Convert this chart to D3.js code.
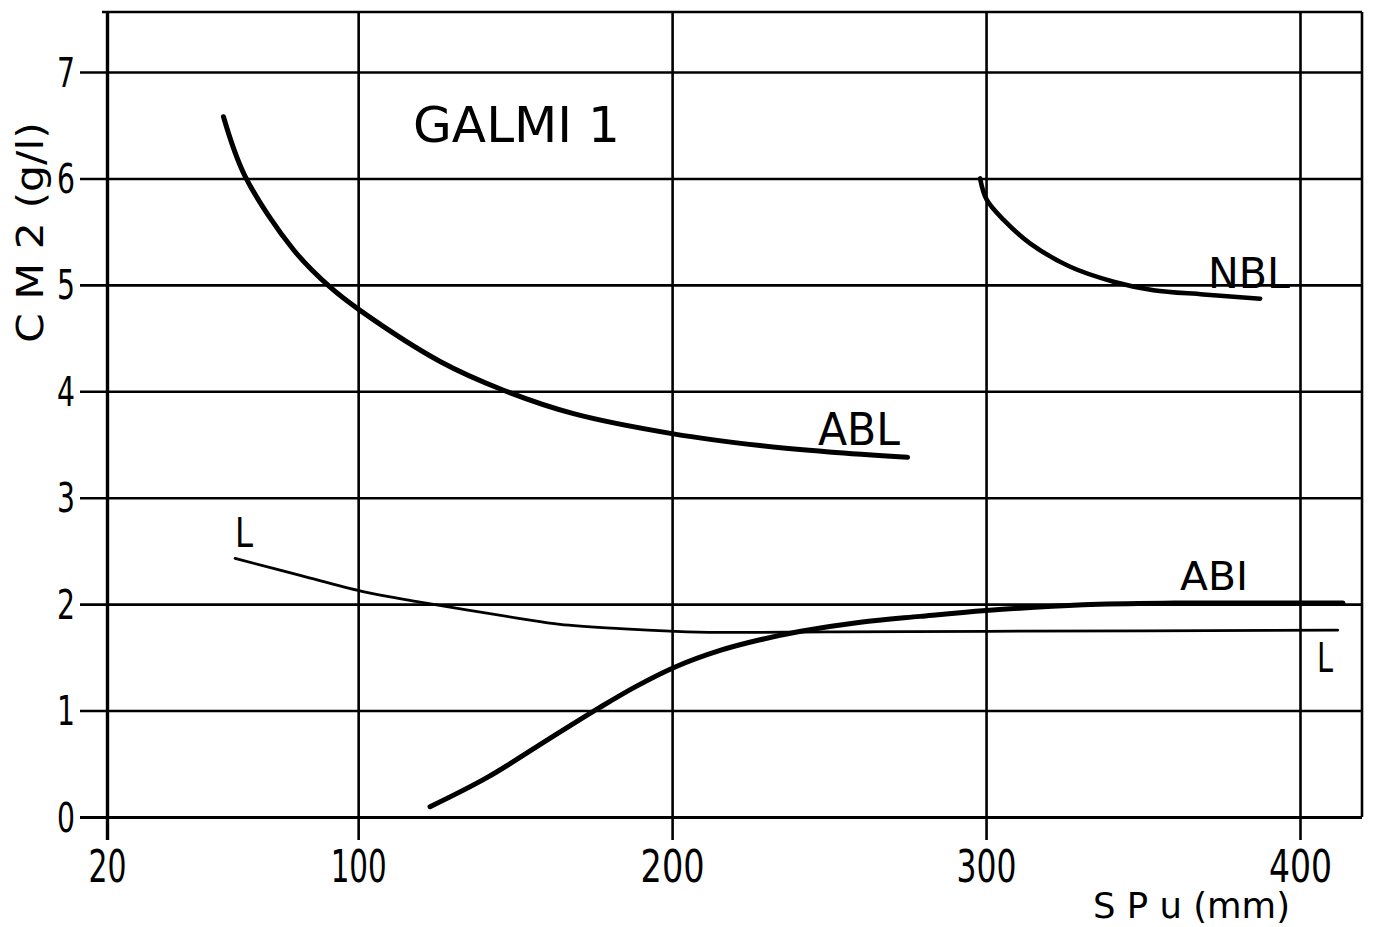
<!DOCTYPE html>
<html>
<head>
<meta charset="utf-8">
<script src="https://cdn.jsdelivr.net/npm/d3@7"></script>
<style>
  html, body { margin: 0; padding: 0; background: #fff; }
  svg { display: block; }
  text { font-family: "DejaVu Sans", sans-serif; fill: #000; }
</style>
</head>
<body>
<svg id="chart" width="1379" height="927"></svg>
<script>
// ---- data ----
const xTicks = [20, 100, 200, 300, 400];
const yTicks = [0, 1, 2, 3, 4, 5, 6, 7];
const xTickLabels = ["20", "100", "200", "300", "400"];

const ablX = [57.1, 64, 79.4, 91, 100.6, 126.1, 146.3, 168.6, 200.4, 228, 250, 275];
const ablY = [6.58, 6.02, 5.33, 4.98, 4.76, 4.28, 4.01, 3.79, 3.60, 3.49, 3.43, 3.38];

const nblX = [298.1, 300.2, 305.6, 314.0, 326.8, 340.6, 353.3, 369.3, 387.3];
const nblY = [6.0, 5.80, 5.61, 5.39, 5.17, 5.03, 4.95, 4.91, 4.87];

const abiX = [122.9, 141, 162.2, 177, 188.7, 201, 215.3, 228, 241, 260, 279, 300, 331, 360, 413.7];
const abiY = [0.097, 0.37, 0.76, 1.03, 1.23, 1.41, 1.565, 1.665, 1.745, 1.83, 1.885, 1.94, 1.995, 2.01, 2.01];

const lX = [60.8, 81.5, 101.2, 119.7, 151.6, 164.3, 183.4, 201, 215, 250, 300, 412];
const lY = [2.43, 2.27, 2.12, 2.02, 1.865, 1.81, 1.77, 1.745, 1.735, 1.74, 1.745, 1.755];

const title = "GALMI 1";
const yTitle = "C M 2  (g/l)";
const xTitle = "S P u  (mm)";

// ---- layout ----
const svg = d3.select("#chart");
const x = d3.scaleLinear().domain([20, 400]).range([107, 1300]);
const y = d3.scaleLinear().domain([0, 7]).range([817, 72]);
const topY = 12, rightX = 1362, tickBottom = 840, tickLeft = 80;

// vertical grid lines via bottom axis
const gx = svg.append("g")
  .attr("transform", `translate(0,${tickBottom})`)
  .call(d3.axisBottom(x).tickValues(xTicks).tickSize(-(tickBottom - topY)).tickFormat((d, i) => xTickLabels[i]));
gx.select(".domain").remove();
gx.selectAll(".tick line").attr("stroke", "#000").attr("stroke-width", (d) => d === 20 ? 3.4 : 2.6);
const xLabelW = { "20": 38, "100": 56, "200": 64, "300": 60, "400": 63 };
gx.selectAll(".tick text")
  .attr("y", 42).attr("dy", null)
  .attr("font-size", 45)
  .attr("text-anchor", "middle")
  .attr("fill", "#000")
  .style("font-family", "'DejaVu Sans', sans-serif")
  .attr("textLength", (d, i) => xLabelW[xTickLabels[i]])
  .attr("lengthAdjust", "spacingAndGlyphs");

// horizontal grid lines via left axis
const gy = svg.append("g")
  .attr("transform", `translate(${tickLeft},0)`)
  .call(d3.axisLeft(y).tickValues(yTicks).tickSize(-(rightX - tickLeft)).tickFormat(d3.format("d")));
gy.select(".domain").remove();
gy.selectAll(".tick line").attr("stroke", "#000").attr("stroke-width", (d) => d === 0 ? 3.2 : 2.6);
gy.selectAll(".tick text")
  .attr("x", -5).attr("y", 14).attr("dy", null)
  .attr("font-size", 41)
  .attr("text-anchor", "end")
  .attr("fill", "#000")
  .style("font-family", "'DejaVu Sans', sans-serif")
  .attr("textLength", 18)
  .attr("lengthAdjust", "spacingAndGlyphs");

// frame: top border and right border
svg.append("line").attr("x1", 102).attr("x2", rightX).attr("y1", topY).attr("y2", topY)
  .attr("stroke", "#000").attr("stroke-width", 2.6);
svg.append("line").attr("x1", rightX).attr("x2", rightX).attr("y1", topY).attr("y2", y(0))
  .attr("stroke", "#000").attr("stroke-width", 2.6);

// curves
const line = d3.line().x(d => x(d[0])).y(d => y(d[1])).curve(d3.curveCatmullRom.alpha(0.5));
const zip = (a, b) => a.map((v, i) => [v, b[i]]);
const series = [
  { pts: zip(ablX, ablY), w: 5 },
  { pts: zip(nblX, nblY), w: 4.6 },
  { pts: zip(abiX, abiY), w: 5 },
  { pts: zip(lX, lY), w: 2.8 }
];
svg.selectAll("path.curve").data(series).join("path")
  .attr("class", "curve")
  .attr("d", d => line(d.pts))
  .attr("fill", "none").attr("stroke", "#000")
  .attr("stroke-width", d => d.w)
  .attr("stroke-linecap", "round")
  .attr("stroke-linejoin", "round");

// texts
function label(str, x0, yb, size, len) {
  return svg.append("text")
    .attr("x", x0).attr("y", yb)
    .attr("font-size", size)
    .attr("textLength", len)
    .attr("lengthAdjust", "spacingAndGlyphs")
    .text(str);
}
label(title, 413, 142, 50, 207);
label("ABL", 818, 445, 44, 82);
label("NBL", 1208, 288, 42, 82);
label("ABI", 1180, 590, 39, 68);
label("L", 235, 547, 41, 18);
label("L", 1317, 672, 41, 16);
label(xTitle, 1093, 918, 36, 197);
// y title, rotated
svg.append("text")
  .attr("transform", "translate(43,343) rotate(-90)")
  .attr("x", 0).attr("y", 0)
  .attr("font-size", 38)
  .attr("textLength", 221)
  .attr("lengthAdjust", "spacingAndGlyphs")
  .text(yTitle);
</script>
</body>
</html>
